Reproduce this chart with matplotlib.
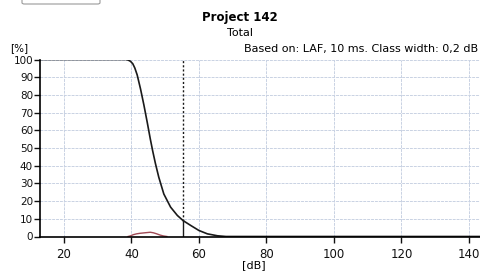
"""Level distribution: cumulative and class percentage over sound level."""

import matplotlib.pyplot as plt
from matplotlib.patches import FancyBboxPatch

# cumulative distribution (percent of time above level)
CUM_DB = [12.9, 38.3, 39.0, 39.7, 40.4, 41.0, 41.7, 42.7, 43.7, 44.7, 45.6, 46.3,
          47.1, 48.1, 49.6, 51.6, 53.6, 55.3, 57.6, 60.0, 62.5, 65.5, 68.0, 143.3]
CUM_PCT = [100, 100, 99.7, 99.0, 97.6, 95.2, 91.3, 83.3, 74.2, 64.3, 55.0, 48.3,
           41.3, 33.5, 24.0, 16.6, 11.9, 9.0, 6.2, 3.4, 1.5, 0.4, 0.0, 0.0]

# class distribution (0,2 dB classes)
CLS_DB = [39.0, 39.8, 40.5, 41.5, 42.5, 43.5, 44.5, 45.6, 46.5, 47.5, 48.5, 49.5, 50.5]
CLS_PCT = [0.0, 0.4, 1.0, 1.5, 1.8, 2.0, 2.2, 2.4, 2.1, 1.5, 0.8, 0.3, 0.0]

MARK_DB = 55.3
MARK_PCT = 9.0

X_TICKS = [20, 40, 60, 80, 100, 120, 140]
Y_TICKS = [0, 10, 20, 30, 40, 50, 60, 70, 80, 90, 100]


def main() -> None:
    fig = plt.figure(figsize=(4.8, 2.72), dpi=100)
    ax = fig.add_axes([40 / 480, 35.5 / 272, 440 / 480, 177 / 272])

    ax.grid(True, color="#c9d2e3", linestyle=(0, (3, 1)), linewidth=0.7)
    ax.set_axisbelow(True)

    ax.plot(CLS_DB, CLS_PCT, color="#a04a55", linewidth=1.0)
    ax.plot(CUM_DB, CUM_PCT, color="#1a1a1a", linewidth=1.2)

    ax.plot([MARK_DB, MARK_DB], [MARK_PCT, 100], color="#1a1a1a", linestyle=(0, (1.5, 1.5)), linewidth=1.0)
    ax.plot([MARK_DB, MARK_DB], [0, MARK_PCT], color="#1a1a1a", linewidth=1.0)

    ax.set_xlim(12.9, 143.3)
    ax.set_ylim(0, 100)
    ax.set_xticks(X_TICKS)
    ax.set_yticks(Y_TICKS)
    ax.tick_params(axis="both", labelsize=7.5, length=4, width=1, pad=1, colors="#111111")
    ax.tick_params(axis="x", labelsize=8.5, pad=4)
    ax.spines[["top", "right"]].set_visible(False)
    ax.spines["left"].set_linewidth(1.2)
    ax.spines["bottom"].set_linewidth(1.2)

    fig.text(10 / 480, 1 - 48 / 272, "[%]", fontsize=7.5, va="center", ha="left")
    fig.text(242 / 480, 1 - 265 / 272, "[dB]", fontsize=8, va="center", ha="left")

    fig.text(240 / 480, 1 - 18 / 272, "Project 142", fontsize=8.5, fontweight="bold", ha="center", va="center")
    fig.text(240 / 480, 1 - 33 / 272, "Total", fontsize=8, ha="center", va="center")
    fig.text(478 / 480, 1 - 49 / 272, "Based on: LAF, 10 ms. Class width: 0,2 dB",
             fontsize=8, ha="right", va="center")

    # cut-off button at top left
    fig.patches.append(FancyBboxPatch((22 / 480, 1 - 4 / 272), 78 / 480, 10 / 272,
                                      boxstyle="round,pad=0,rounding_size=0.005",
                                      transform=fig.transFigure, facecolor="white",
                                      edgecolor="#9a9a9a", linewidth=0.8))

    fig.savefig("out.png", dpi=100)
    plt.close(fig)


if __name__ == "__main__":
    main()
